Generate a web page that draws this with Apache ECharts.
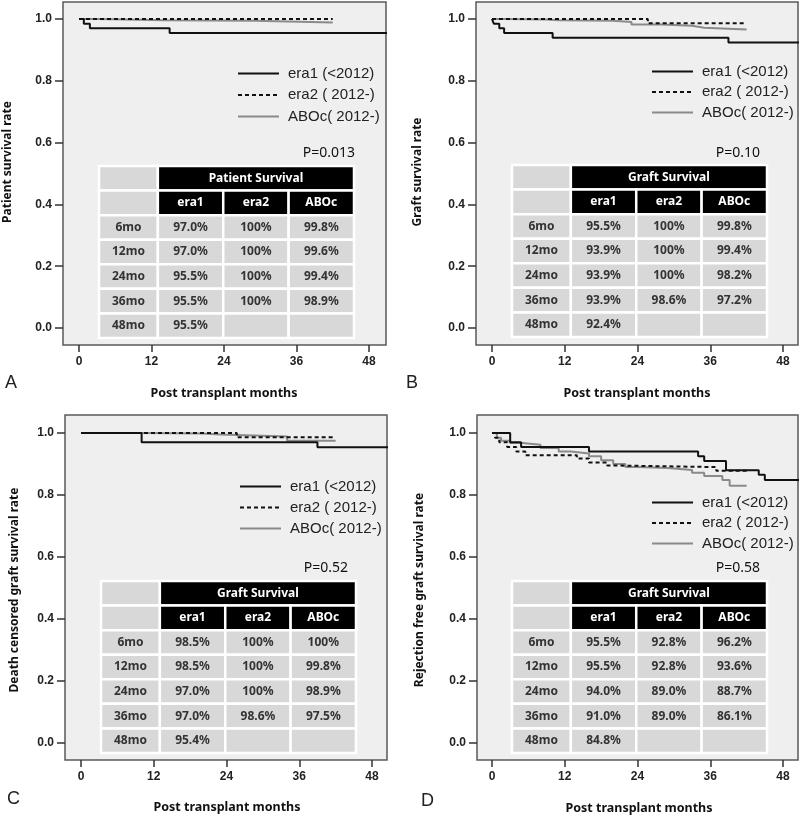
<!DOCTYPE html>
<html><head><meta charset="utf-8">
<script src="https://cdn.jsdelivr.net/npm/echarts@6/dist/echarts.min.js"></script>
<style>html,body{margin:0;padding:0;background:#fff}#chart{width:800px;height:816px}</style>
</head><body><div id="chart"></div>
<script>
// ---------- data ----------
const monthTicks = [0, 12, 24, 36, 48];
const rateTicks = [0, 0.2, 0.4, 0.6, 0.8, 1.0];
const seriesNames = ['era1 (<2012)', 'era2 ( 2012-)', 'ABOc( 2012-)'];
const panelLetters = ['A', 'B', 'C', 'D'];
const xTitle = 'Post transplant months';
const yTitles = ['Patient survival rate', 'Graft survival rate', 'Death censored graft survival rate', 'Rejection free graft survival rate'];
const pValues = ['P=0.013', 'P=0.10', 'P=0.52', 'P=0.58'];
const tableTitles = ['Patient Survival', 'Graft Survival', 'Graft Survival', 'Graft Survival'];
const tableCols = ['era1', 'era2', 'ABOc'];
const tableRows = ['6mo', '12mo', '24mo', '36mo', '48mo'];

// A: patient survival
const patientEra1 = [[0,1],[0.8,0.985],[1.8,0.97],[15,0.955],[51,0.955]];
const patientEra2 = [[0,1],[42,1]];
const patientABOc = [[0,1],[3,0.998],[8,0.996],[14,0.994],[29,0.989],[42,0.989]];
const patientEra1Pct = ['97.0%','97.0%','95.5%','95.5%','95.5%'];
const patientEra2Pct = ['100%','100%','100%','100%',''];
const patientABOcPct = ['99.8%','99.6%','99.4%','98.9%',''];

// B: graft survival
const graftEra1 = [[0,1],[0.3,0.985],[1.2,0.97],[2,0.955],[10,0.939],[39,0.924],[51,0.924]];
const graftEra2 = [[0,1],[25.7,0.986],[42,0.986]];
const graftABOc = [[0,1],[2,0.998],[9,0.996],[11,0.994],[20,0.99],[23,0.982],[28,0.978],[33,0.972],[35,0.966],[42,0.966]];
const graftEra1Pct = ['95.5%','93.9%','93.9%','93.9%','92.4%'];
const graftEra2Pct = ['100%','100%','100%','98.6%',''];
const graftABOcPct = ['99.8%','99.4%','98.2%','97.2%',''];

// C: death censored graft survival
const dcEra1 = [[0,1],[10,0.97],[39,0.954],[51,0.954]];
const dcEra2 = [[0,1],[25.7,0.986],[42,0.986]];
const dcABOc = [[0,1],[10,0.998],[20,0.995],[23,0.989],[34,0.975],[42,0.975]];
const dcEra1Pct = ['98.5%','98.5%','97.0%','97.0%','95.4%'];
const dcEra2Pct = ['100%','100%','100%','98.6%',''];
const dcABOcPct = ['100%','99.8%','98.9%','97.5%',''];

// D: rejection free graft survival
const rfEra1 = [[0,1],[3,0.97],[4.8,0.955],[16,0.94],[34,0.925],[35,0.91],[38.6,0.88],[44,0.865],[45,0.848],[51,0.848]];
const rfEra2 = [[0,1],[0.5,0.985],[1.2,0.97],[2.5,0.955],[4,0.94],[5.5,0.928],[14,0.918],[16,0.905],[19,0.895],[21,0.89],[37,0.878],[42,0.878]];
const rfABOc = [[0,1],[0.8,0.985],[1.5,0.975],[3,0.968],[5,0.962],[8,0.952],[11,0.94],[13,0.934],[16,0.925],[18,0.912],[20,0.9],[22,0.89],[24,0.887],[29,0.881],[33,0.872],[35,0.861],[38,0.848],[39.2,0.83],[42,0.83]];
const rfEra1Pct = ['95.5%','95.5%','94.0%','91.0%','84.8%'];
const rfEra2Pct = ['92.8%','92.8%','89.0%','89.0%',''];
const rfABOcPct = ['96.2%','93.6%','88.7%','86.1%',''];

// ---------- layout ----------
const layouts = [
  {box:[63,2,386,345], x0:79, x48:369, y1:19, y0:328, table:[99,166,354,338], legend:[237,66,6.5], p:[355,153], letter:[5,383], xT:[224,393], yT:[8,162]},
  {box:[476,2,798,345], x0:492, x48:783, y1:19, y0:328, table:[512,165,767,337], legend:[651,64,5.5], p:[760,153], letter:[406,383], xT:[637,393], yT:[418,172]},
  {box:[65,415,387,760], x0:81, x48:372, y1:433, y0:743, table:[101,581,356,753], legend:[239,479,6], p:[348,568], letter:[7,799], xT:[227,807], yT:[15,590]},
  {box:[477,415,798,760], x0:492, x48:783, y1:433, y0:743, table:[512,581,767,753], legend:[651,495,5.5], p:[760,568], letter:[421,801], xT:[639,808], yT:[420,590]}
];
const colEdges = [0, 0.9, 1.9, 2.9, 3.9];

const panels = [
  {curves:[patientEra1, patientEra2, patientABOc], cols:[patientEra1Pct, patientEra2Pct, patientABOcPct]},
  {curves:[graftEra1, graftEra2, graftABOc], cols:[graftEra1Pct, graftEra2Pct, graftABOcPct]},
  {curves:[dcEra1, dcEra2, dcABOc], cols:[dcEra1Pct, dcEra2Pct, dcABOcPct]},
  {curves:[rfEra1, rfEra2, rfABOc], cols:[rfEra1Pct, rfEra2Pct, rfABOcPct]}
];

const lineStyles = [
  {color:'#111', width:2, type:'solid'},
  {color:'#111', width:2, type:[4,3]},
  {color:'#8a8a8a', width:2, type:'solid'}
];
const tickFont = {color:'#222', fontSize:12, fontWeight:'bold', fontFamily:'Liberation Sans'};

const option = {animation:false, backgroundColor:'#fff', grid:[], xAxis:[], yAxis:[], series:[], legend:[], graphic:[]};

panels.forEach((pn, i) => {
  const L = layouts[i];
  const ppm = (L.x48 - L.x0) / 48;
  const ppr = (L.y0 - L.y1);
  const xmin = -(L.x0 - L.box[0]) / ppm, xmax = 48 + (L.box[2] - L.x48) / ppm;
  const ymax = 1 + (L.y1 - L.box[1]) / ppr, ymin = -(L.box[3] - L.y0) / ppr;
  const g = option.grid.length;
  option.grid.push({left:L.box[0], top:L.box[1], width:L.box[2]-L.box[0], height:L.box[3]-L.box[1],
    show:true, backgroundColor:'#efefef', borderColor:'#5a5a5a', borderWidth:1.5});
  option.xAxis.push({type:'value', gridIndex:g, min:xmin, max:xmax,
    axisLine:{show:false, onZero:false}, splitLine:{show:false},
    axisTick:{show:true, customValues:monthTicks, length:7, lineStyle:{color:'#333', width:1.5}},
    axisLabel:Object.assign({customValues:monthTicks, margin:11}, tickFont)});
  option.yAxis.push({type:'value', gridIndex:g, min:ymin, max:ymax,
    axisLine:{show:false, onZero:false}, splitLine:{show:false},
    axisTick:{show:true, customValues:rateTicks, length:8, lineStyle:{color:'#333', width:1.5}},
    axisLabel:Object.assign({customValues:rateTicks, margin:11, formatter:v => v.toFixed(1)}, tickFont)});
  // draw order: ABOc, era2, era1
  [2,1,0].forEach(k => {
    option.series.push({type:'line', name:seriesNames[k], xAxisIndex:g, yAxisIndex:g,
      data:pn.curves[k], step:'end', symbol:'none', showSymbol:false, silent:true,
      lineStyle:lineStyles[k], itemStyle:{color:lineStyles[k].color}});
  });
  option.legend.push({data:seriesNames, orient:'vertical', left:L.legend[0], top:L.legend[1], padding:0,
    itemGap:L.legend[2], itemWidth:41, itemHeight:14, selectedMode:false,
    itemStyle:{opacity:0, borderWidth:0},
    textStyle:{fontSize:15, color:'#222', fontFamily:'Liberation Sans', padding:[0,0,0,4]}});

  // table grid
  const tg = option.grid.length;
  const T = L.table;
  option.grid.push({left:T[0], top:T[1], width:T[2]-T[0], height:T[3]-T[1]});
  option.xAxis.push({type:'value', gridIndex:tg, min:0, max:colEdges[4], show:false});
  option.yAxis.push({type:'value', gridIndex:tg, min:0, max:2 + tableRows.length, inverse:true, show:false});
  const cells = [];
  cells.push({c0:0, c1:1, r:0, text:'', kind:'blank'});
  cells.push({c0:1, c1:4, r:0, text:tableTitles[i], kind:'head'});
  cells.push({c0:0, c1:1, r:1, text:'', kind:'blank'});
  tableCols.forEach((c, j) => cells.push({c0:j+1, c1:j+2, r:1, text:c, kind:'head'}));
  tableRows.forEach((rl, r) => {
    cells.push({c0:0, c1:1, r:r+2, text:rl, kind:'body'});
    pn.cols.forEach((col, j) => cells.push({c0:j+1, c1:j+2, r:r+2, text:col[r], kind:'body'}));
  });
  option.series.push({type:'custom', xAxisIndex:tg, yAxisIndex:tg, silent:true, clip:false,
    encode:{x:[0,1], y:[2,3]},
    data:cells.map(c => [colEdges[c.c0], colEdges[c.c1], c.r, c.r + 1]),
    renderItem:(params, api) => {
      const c = cells[params.dataIndex];
      const p1 = api.coord([api.value(0), api.value(2)]);
      const p2 = api.coord([api.value(1), api.value(3)]);
      const head = c.kind === 'head';
      return {type:'group', children:[
        {type:'rect', shape:{x:p1[0], y:p1[1], width:p2[0]-p1[0], height:p2[1]-p1[1]},
          style:{fill: head ? '#000' : '#d8d8d8', stroke:'#fff', lineWidth:2.5}},
        {type:'text', x:(p1[0]+p2[0])/2, y:(p1[1]+p2[1])/2,
          style:{text:c.text, fill: head ? '#fff' : '#333', font:'bold 12px "Noto Sans"', align:'center', verticalAlign:'middle'}}
      ]};
    }});

  // texts
  option.graphic.push({type:'text', x:L.p[0], y:L.p[1], style:{text:pValues[i], font:'14px "Noto Sans"', fill:'#111', align:'right', verticalAlign:'middle'}});
  option.graphic.push({type:'text', x:L.letter[0], y:L.letter[1], style:{text:panelLetters[i], font:'18px "Liberation Sans"', fill:'#222', align:'left', verticalAlign:'middle'}});
  option.graphic.push({type:'text', x:L.xT[0], y:L.xT[1], style:{text:xTitle, font:'bold 12.5px "Noto Sans"', fill:'#111', align:'center', verticalAlign:'middle'}});
  option.graphic.push({type:'text', x:L.yT[0], y:L.yT[1], rotation:Math.PI/2, style:{text:yTitles[i], font:'bold 12px "Noto Sans"', fill:'#111', align:'center', verticalAlign:'middle'}});
});

const chart = echarts.init(document.getElementById('chart'), null, {renderer:'canvas'});
chart.setOption(option);
</script>
</body></html>
